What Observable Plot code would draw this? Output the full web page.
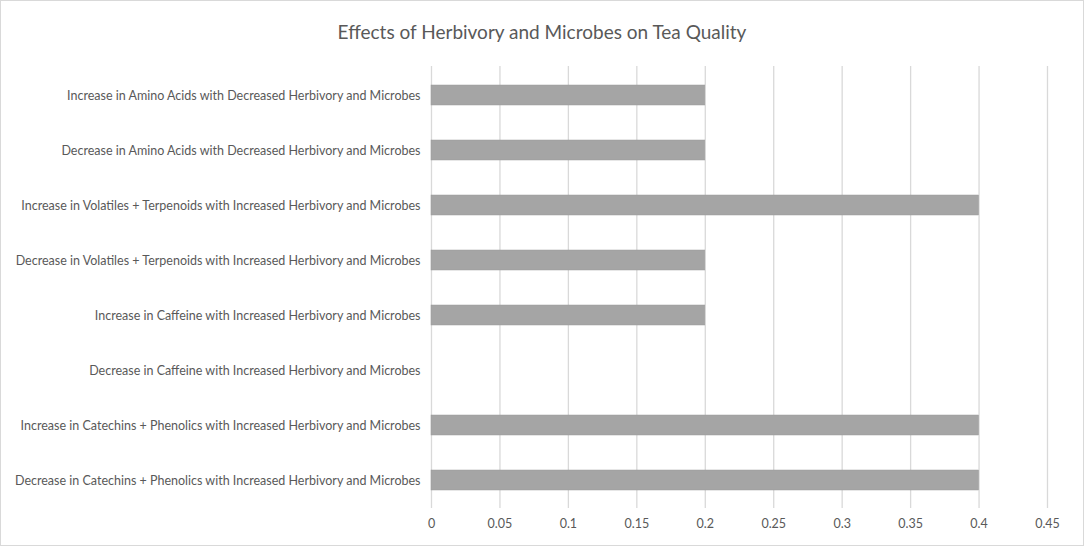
<!DOCTYPE html>
<html>
<head>
<meta charset="utf-8">
<script src="https://cdn.jsdelivr.net/npm/d3@7"></script>
<script src="https://cdn.jsdelivr.net/npm/@observablehq/plot@0.6"></script>
<style>
  html, body { margin: 0; padding: 0; background: #fff; }
  #chart { width: 1084px; height: 546px; box-sizing: border-box; border: 1px solid #d9d9d9; overflow: hidden; }
  #title { height: 57px; line-height: 62px; text-align: center; font-family: Lato, "Open Sans", sans-serif; font-size: 19px; color: #595959; }
</style>
</head>
<body>
<div id="chart"><div id="title">Effects of Herbivory and Microbes on Tea Quality</div></div>
<script>
const categories = [
  "Increase in Amino Acids with Decreased Herbivory and Microbes",
  "Decrease in Amino Acids with Decreased Herbivory and Microbes",
  "Increase in Volatiles + Terpenoids with Increased Herbivory and Microbes",
  "Decrease in Volatiles + Terpenoids with Increased Herbivory and Microbes",
  "Increase in Caffeine with Increased Herbivory and Microbes",
  "Decrease in Caffeine with Increased Herbivory and Microbes",
  "Increase in Catechins + Phenolics with Increased Herbivory and Microbes",
  "Decrease in Catechins + Phenolics with Increased Herbivory and Microbes"
];
const values = [0.2, 0.2, 0.4, 0.2, 0.2, 0, 0.4, 0.4];
const xTicks = [0, 0.05, 0.1, 0.15, 0.2, 0.25, 0.3, 0.35, 0.4, 0.45];

const data = categories.map((c, i) => ({category: c, value: values[i]}));

const chart = Plot.plot({
  width: 1082,
  height: 487,
  marginTop: 8,
  marginBottom: 37,
  marginLeft: 430,
  marginRight: 36,
  style: {fontFamily: "Lato, 'Open Sans', sans-serif", fontSize: "12.5px", color: "#595959", background: "white"},
  x: {domain: [0, 0.45], ticks: xTicks, tickFormat: d => `${+d.toFixed(2)}`, label: null, tickSize: 0, tickPadding: 11},
  y: {domain: categories, label: null, tickSize: 0, tickPadding: 11, paddingInner: 0.64, paddingOuter: 0.32},
  marks: [
    Plot.ruleX(xTicks, {stroke: "#d9d9d9", strokeWidth: 1.3}),
    Plot.barX(data, {x: "value", y: "category", fill: "#a5a5a5", stroke: "#9a9a9a", strokeWidth: 0.5}),
    Plot.axisX({ticks: xTicks, tickFormat: d => `${+d.toFixed(2)}`, tickSize: 0, tickPadding: 11, label: null, fill: "#595959"}),
    Plot.axisY({tickSize: 0, tickPadding: 11, label: null, fill: "#595959"})
  ]
});
document.getElementById("chart").appendChild(chart);
</script>
</body>
</html>
